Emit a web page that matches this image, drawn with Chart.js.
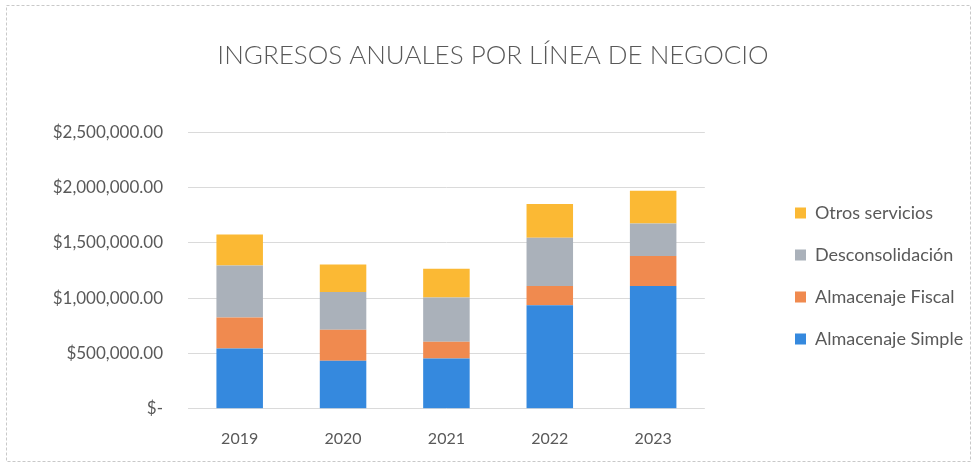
<!DOCTYPE html>
<html lang="es">
<head>
    <meta charset="UTF-8">
    <title>Ingresos anuales por línea de negocio</title>
    <script src="https://cdn.jsdelivr.net/npm/chart.js"></script>
    <style>
        html, body { margin: 0; padding: 0; background: #ffffff; }
        .chart-wrapper { width: 977px; height: 467px; }
    </style>
</head>
<body>
    <div class="chart-wrapper">
        <canvas id="ingresosChart"></canvas>
    </div>

    <script>
        // Data (approximate)
        const years = ['2019', '2020', '2021', '2022', '2023'];
        const almacenajeSimple = [545000, 435000, 455000, 935000, 1110000];
        const almacenajeFiscal = [280000, 280000, 150000, 175000, 270000];
        const desconsolidacion = [470000, 340000, 400000, 435000, 295000];
        const otrosServicios = [280000, 250000, 260000, 305000, 295000];
        const yTicks = [0, 500000, 1000000, 1500000, 2000000, 2500000];

        const textColor = '#595959';
        const fontFamily = 'Lato, "Open Sans", sans-serif';

        function money(v) {
            if (v === 0) return '$-';
            return '$' + v.toLocaleString('en-US', { minimumFractionDigits: 2, maximumFractionDigits: 2 });
        }

        // faint frame around the chart, like the Excel chart border
        const frame = {
            id: 'frame',
            beforeDraw(chart) {
                const ctx = chart.ctx;
                ctx.save();
                ctx.fillStyle = '#ffffff';
                ctx.fillRect(0, 0, chart.width, chart.height);
                ctx.strokeStyle = '#c9c9c9';
                ctx.setLineDash([3, 2]);
                ctx.lineWidth = 1;
                ctx.strokeRect(6.5, 5.5, chart.width - 13, chart.height - 11);
                ctx.restore();
            }
        };

        // nudge legend and title to where they sit in the original
        const nudge = {
            id: 'nudge',
            afterLayout(chart) {
                const lg = chart.legend;
                const dx = 771 - lg.left;
                const dy = 36;
                lg.left += dx;
                lg.right += dx;
                lg.top += dy;
                lg.bottom += dy;

                const tb = chart.titleBlock;
                const tx = 493 - (tb.left + tb.right) / 2;
                tb.left += tx;
                tb.right += tx;
            }
        };

        var chart = new Chart(document.getElementById('ingresosChart'), {
            type: 'bar',
            data: {
                labels: years,
                datasets: [{
                    label: 'Almacenaje Simple',
                    data: almacenajeSimple,
                    backgroundColor: '#3589de'
                }, {
                    label: 'Almacenaje Fiscal',
                    data: almacenajeFiscal,
                    backgroundColor: '#f08a4f'
                }, {
                    label: 'Desconsolidación',
                    data: desconsolidacion,
                    backgroundColor: '#aab1ba'
                }, {
                    label: 'Otros servicios',
                    data: otrosServicios,
                    backgroundColor: '#fbb934'
                }]
            },
            options: {
                responsive: true,
                maintainAspectRatio: false,
                animation: false,
                datasets: {
                    bar: { barPercentage: 0.45, categoryPercentage: 1 }
                },
                layout: {
                    padding: { left: 20, right: 70, top: 20, bottom: 7 }
                },
                plugins: {
                    title: {
                        display: true,
                        text: 'INGRESOS ANUALES POR LÍNEA DE NEGOCIO',
                        color: textColor,
                        font: { family: fontFamily, size: 26, weight: '300' },
                        padding: { top: 20, bottom: 61 }
                    },
                    legend: {
                        position: 'right',
                        reverse: true,
                        labels: {
                            color: textColor,
                            font: { family: fontFamily, size: 18 },
                            boxWidth: 11,
                            boxHeight: 11,
                            padding: 24
                        }
                    },
                    tooltip: { enabled: false }
                },
                scales: {
                    x: {
                        stacked: true,
                        grid: { display: false },
                        border: { display: false },
                        ticks: {
                            color: textColor,
                            font: { family: fontFamily, size: 16 },
                            padding: 12,
                            maxRotation: 0,
                            minRotation: 0,
                            autoSkip: false
                        }
                    },
                    y: {
                        stacked: true,
                        min: 0,
                        max: 2500000,
                        afterBuildTicks(scale) {
                            scale.ticks = yTicks.map(v => ({ value: v }));
                        },
                        afterFit(scale) {
                            scale.width = 168;
                        },
                        grid: { color: '#dadada', drawTicks: false },
                        border: { display: false },
                        ticks: {
                            color: textColor,
                            font: { family: fontFamily, size: 17 },
                            padding: 25,
                            callback: v => money(v)
                        }
                    }
                }
            },
            plugins: [frame, nudge]
        });
    </script>
</body>
</html>
